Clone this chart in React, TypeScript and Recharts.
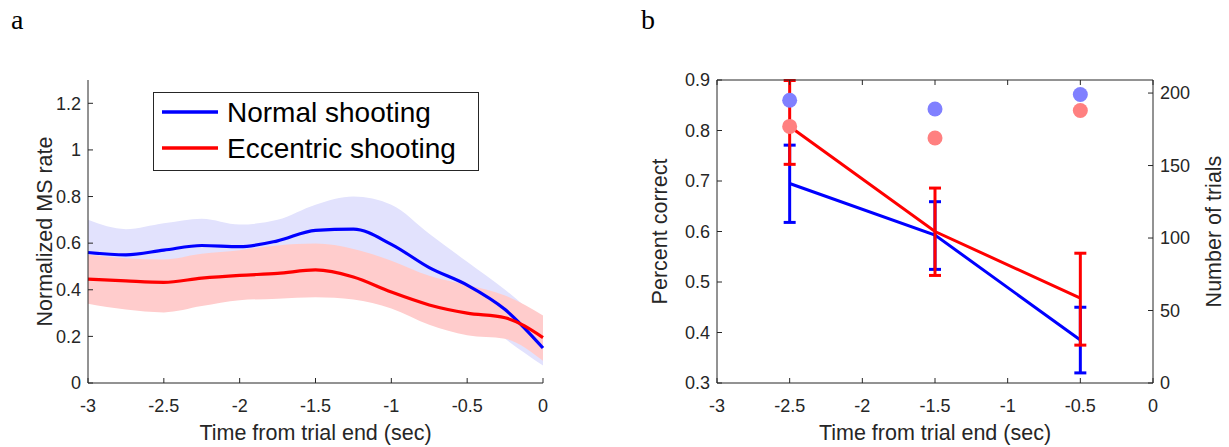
import React from 'react'
import { ComposedChart, Area, Line, Scatter, XAxis, YAxis, ErrorBar, Legend } from 'recharts'

// panel a: smoothed MS rate, time grid in seconds
const timeA = [-3, -2.75, -2.5, -2.25, -2, -1.75, -1.5, -1.25, -1, -0.75, -0.5, -0.25, 0]
const normalMean = [0.56, 0.55, 0.57, 0.59, 0.585, 0.61, 0.655, 0.66, 0.595, 0.495, 0.42, 0.315, 0.15]
const normalUpper = [0.7, 0.66, 0.685, 0.705, 0.68, 0.7, 0.765, 0.8, 0.765, 0.64, 0.52, 0.4, 0.26]
const normalLower = [0.42, 0.44, 0.455, 0.475, 0.49, 0.52, 0.545, 0.52, 0.44, 0.35, 0.32, 0.19, 0.075]
const eccMean = [0.446, 0.438, 0.432, 0.45, 0.462, 0.47, 0.485, 0.455, 0.39, 0.335, 0.3, 0.28, 0.195]
const eccUpper = [0.55, 0.535, 0.53, 0.555, 0.57, 0.59, 0.598, 0.575, 0.525, 0.46, 0.42, 0.375, 0.29]
const eccLower = [0.34, 0.315, 0.303, 0.33, 0.355, 0.362, 0.368, 0.358, 0.32, 0.25, 0.205, 0.19, 0.095]
const seriesNames = ['Normal shooting', 'Eccentric shooting']

// panel b: percent correct per bin, plus trial counts
const timeB = [-2.5, -1.5, -0.5]
const normalCorrect = [0.695, 0.593, 0.385]
const normalCorrectLo = [0.618, 0.525, 0.32]
const normalCorrectHi = [0.771, 0.659, 0.45]
const eccCorrect = [0.808, 0.6, 0.468]
const eccCorrectLo = [0.733, 0.513, 0.375]
const eccCorrectHi = [0.899, 0.686, 0.557]
const normalTrials = [195, 189, 199]
const eccTrials = [177, 169, 188]

const xTicks = [-3, -2.5, -2, -1.5, -1, -0.5, 0]
const yTicksA = [0, 0.2, 0.4, 0.6, 0.8, 1, 1.2]
const yTicksB = [0.3, 0.4, 0.5, 0.6, 0.7, 0.8, 0.9]
const yTicksN = [0, 50, 100, 150, 200]

const FONT = '"Liberation Sans", Arial, Helvetica, sans-serif'
const AXIS = '#262626'
const BLUE = '#0000ff'
const RED = '#ff0000'

const dataA = timeA.map((t, i) => ({
    t,
    normal: normalMean[i],
    eccentric: eccMean[i],
    normalBand: [normalLower[i], normalUpper[i]],
    eccBand: [eccLower[i], eccUpper[i]],
}))

const dataB = timeB.map((t, i) => ({
    t,
    normal: normalCorrect[i],
    normalErr: [normalCorrect[i] - normalCorrectLo[i], normalCorrectHi[i] - normalCorrect[i]],
    eccentric: eccCorrect[i],
    eccErr: [eccCorrect[i] - eccCorrectLo[i], eccCorrectHi[i] - eccCorrect[i]],
    normalN: normalTrials[i],
    eccN: eccTrials[i],
}))

// MATLAB style ticks: marks point into the plot
const XTick = (props: any) => {
    const { x, y, payload, dir, label } = props
    return (
        <g>
            <line x1={x} y1={y} x2={x} y2={y + dir * 5} stroke={AXIS} />
            {label && (
                <text x={x} y={y + 29} textAnchor="middle" fill={AXIS} fontSize={18} fontFamily={FONT}>
                    {payload.value}
                </text>
            )}
        </g>
    )
}

const YTick = (props: any) => {
    const { x, y, payload, dir } = props
    return (
        <g>
            <line x1={x} y1={y} x2={x + dir * 5} y2={y} stroke={AXIS} />
            <text
                x={x - dir * 7}
                y={y}
                dy="0.35em"
                textAnchor={dir > 0 ? 'end' : 'start'}
                fill={AXIS}
                fontSize={18}
                fontFamily={FONT}
            >
                {payload.value}
            </text>
        </g>
    )
}

const VTitle = (props: any) => {
    const { viewBox, text, shift = 0 } = props
    const cx = viewBox.x + viewBox.width / 2 + shift
    const cy = viewBox.y + viewBox.height / 2
    return (
        <text
            x={cx}
            y={cy}
            transform={`rotate(-90, ${cx}, ${cy})`}
            textAnchor="middle"
            dominantBaseline="central"
            fill={AXIS}
            fontSize={21.5}
            fontFamily={FONT}
        >
            {text}
        </text>
    )
}

const HTitle = (props: any) => {
    const { viewBox, text } = props
    return (
        <text
            x={viewBox.x + viewBox.width / 2}
            y={viewBox.y + 57}
            textAnchor="middle"
            fill={AXIS}
            fontSize={21.5}
            fontFamily={FONT}
        >
            {text}
        </text>
    )
}

const LegendBox = (props: any) => {
    const entries = (props.payload || [])
        .filter((e: any) => seriesNames.includes(e.value))
        .sort((a: any, b: any) => seriesNames.indexOf(a.value) - seriesNames.indexOf(b.value))
    return (
        <svg width={326} height={79} style={{ display: 'block', overflow: 'visible' }}>
            <rect x={0.5} y={0.5} width={325} height={78} fill="#fff" stroke={AXIS} />
            {entries.map((entry: any, i: number) => (
                <g key={entry.value}>
                    <line x1={9} x2={65} y1={20 + i * 36} y2={20 + i * 36} stroke={entry.color} strokeWidth={3.5} />
                    <text x={74} y={30 + i * 36} fontSize={28} fontFamily={FONT} fill="#000">
                        {entry.value}
                    </text>
                </g>
            ))}
        </svg>
    )
}

const Dot = (color: string) => (props: any) => <circle cx={props.cx} cy={props.cy} r={7.5} fill={color} />

const PanelLabel = ({ x, text }: { x: number; text: string }) => (
    <div
        style={{
            position: 'absolute',
            left: x,
            top: 4,
            fontFamily: '"Liberation Serif", "Times New Roman", serif',
            fontSize: 28,
            color: '#000',
        }}
    >
        {text}
    </div>
)

export default function App() {
    return (
        <div style={{ position: 'absolute', left: 0, top: 0, width: 1229, height: 447, background: '#fff', overflow: 'hidden' }}>
            <PanelLabel x={11} text="a" />
            <PanelLabel x={641} text="b" />

            <div style={{ position: 'absolute', left: 0, top: 0 }}>
                <ComposedChart width={600} height={447} data={dataA} margin={{ top: 80, right: 57, bottom: 4, left: 2 }}>
                    <XAxis
                        type="number"
                        dataKey="t"
                        domain={[-3, 0]}
                        ticks={xTicks}
                        interval={0}
                        height={60}
                        tickSize={0}
                        tickMargin={0}
                        tickLine={false}
                        axisLine={{ stroke: AXIS }}
                        tick={(p: any) => <XTick {...p} dir={-1} label />}
                        label={<HTitle text="Time from trial end (sec)" />}
                    />
                    <YAxis
                        type="number"
                        domain={[0, 1.3]}
                        ticks={yTicksA}
                        interval={0}
                        width={86}
                        tickSize={0}
                        tickMargin={0}
                        tickLine={false}
                        axisLine={{ stroke: AXIS }}
                        tick={(p: any) => <YTick {...p} dir={1} />}
                        label={<VTitle text="Normalized MS rate" />}
                    />
                    <Area
                        dataKey="normalBand"
                        type="monotone"
                        fill="#e2e2fd"
                        fillOpacity={1}
                        stroke="none"
                        legendType="none"
                        isAnimationActive={false}
                    />
                    <Area
                        dataKey="eccBand"
                        type="monotone"
                        fill="#ffcccc"
                        fillOpacity={1}
                        stroke="none"
                        legendType="none"
                        isAnimationActive={false}
                    />
                    <Line
                        dataKey="normal"
                        name={seriesNames[0]}
                        type="monotone"
                        stroke={BLUE}
                        strokeWidth={3.2}
                        dot={false}
                        activeDot={false}
                        isAnimationActive={false}
                    />
                    <Line
                        dataKey="eccentric"
                        name={seriesNames[1]}
                        type="monotone"
                        stroke={RED}
                        strokeWidth={3.2}
                        dot={false}
                        activeDot={false}
                        isAnimationActive={false}
                    />
                    <Legend
                        layout="horizontal"
                        verticalAlign="middle"
                        align="center"
                        content={<LegendBox />}
                        wrapperStyle={{ position: 'absolute', left: 153, top: 92, width: 326, height: 79 }}
                    />
                </ComposedChart>
            </div>

            <div style={{ position: 'absolute', left: 600, top: 0 }}>
                <ComposedChart width={629} height={447} data={dataB} margin={{ top: 79, right: 0, bottom: 4, left: 3 }}>
                    <XAxis
                        xAxisId="top"
                        orientation="top"
                        type="number"
                        dataKey="t"
                        domain={[-3, 0]}
                        ticks={xTicks}
                        interval={0}
                        height={1}
                        tickSize={0}
                        tickMargin={0}
                        tickLine={false}
                        axisLine={{ stroke: AXIS }}
                        tick={(p: any) => <XTick {...p} dir={1} label={false} />}
                    />
                    <XAxis
                        type="number"
                        dataKey="t"
                        domain={[-3, 0]}
                        ticks={xTicks}
                        interval={0}
                        height={60}
                        tickSize={0}
                        tickMargin={0}
                        tickLine={false}
                        axisLine={{ stroke: AXIS }}
                        tick={(p: any) => <XTick {...p} dir={-1} label />}
                        label={<HTitle text="Time from trial end (sec)" />}
                    />
                    <YAxis
                        yAxisId="left"
                        type="number"
                        domain={[0.3, 0.9]}
                        ticks={yTicksB}
                        interval={0}
                        width={114}
                        tickSize={0}
                        tickMargin={0}
                        tickLine={false}
                        axisLine={{ stroke: AXIS }}
                        tick={(p: any) => <YTick {...p} dir={1} />}
                        label={<VTitle text="Percent correct" />}
                    />
                    <YAxis
                        yAxisId="right"
                        orientation="right"
                        type="number"
                        domain={[0, 209]}
                        ticks={yTicksN}
                        interval={0}
                        width={76}
                        tickSize={0}
                        tickMargin={0}
                        tickLine={false}
                        axisLine={{ stroke: AXIS }}
                        tick={(p: any) => <YTick {...p} dir={-1} />}
                        label={<VTitle text="Number of trials" shift={23} />}
                    />
                    <Line
                        yAxisId="left"
                        dataKey="normal"
                        type="linear"
                        stroke={BLUE}
                        strokeWidth={3}
                        dot={false}
                        activeDot={false}
                        isAnimationActive={false}
                    >
                        <ErrorBar dataKey="normalErr" direction="y" width={6} stroke={BLUE} strokeWidth={3} isAnimationActive={false} />
                    </Line>
                    <Line
                        yAxisId="left"
                        dataKey="eccentric"
                        type="linear"
                        stroke={RED}
                        strokeWidth={3}
                        dot={false}
                        activeDot={false}
                        isAnimationActive={false}
                    >
                        <ErrorBar dataKey="eccErr" direction="y" width={6} stroke={RED} strokeWidth={3} isAnimationActive={false} />
                    </Line>
                    <Scatter yAxisId="right" dataKey="normalN" shape={Dot('#8080ff')} isAnimationActive={false} />
                    <Scatter yAxisId="right" dataKey="eccN" shape={Dot('#ff8080')} isAnimationActive={false} />
                </ComposedChart>
            </div>
        </div>
    )
}
